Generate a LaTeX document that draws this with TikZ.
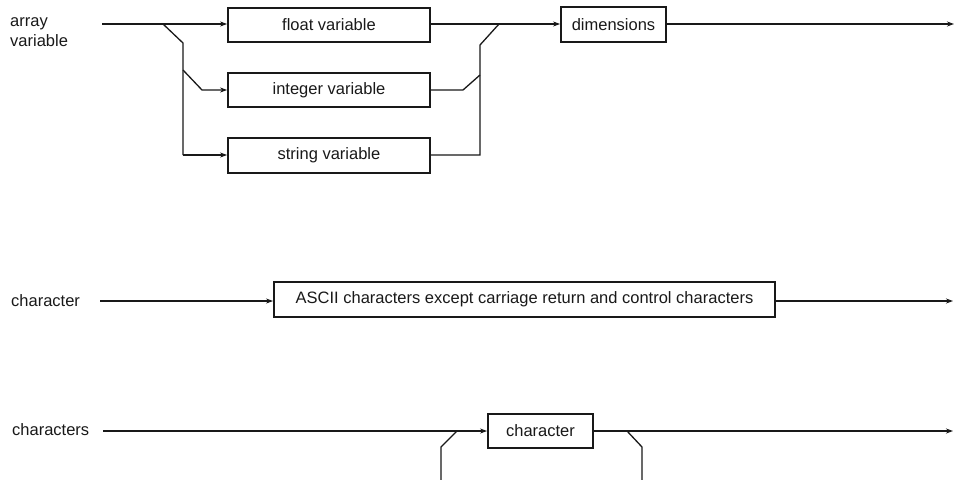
\documentclass[tikz,border=0pt]{standalone}
\usepackage{fontspec}
\setmainfont{Liberation Sans}
\usepackage{tikz}
\usetikzlibrary{arrows.meta, positioning, calc}
\definecolor{mydark}{RGB}{25,25,25}
\tikzset{
  synbox/.style={rectangle,draw=mydark,line width=1.8pt,minimum height=34pt,
    inner sep=0pt,font=\fontsize{16.5}{18}\selectfont,text=mydark},
  lbl/.style={anchor=west,align=left,inner sep=0pt,font=\fontsize{16.5}{20}\selectfont,text=mydark},
  arrow/.style={-{Stealth[length=7pt,width=5pt]},line width=1.3pt,color=mydark},
  line/.style={line width=1.3pt,color=mydark,line join=miter}
}
\begin{document}
\begin{tikzpicture}[x=1pt,y=-1pt]
  \clip (0,0) rectangle (957,479);
  % array variable
  \node[lbl] (arrlbl) at (10,32) {array\\variable};
  \node[synbox, minimum width=202pt] (flt) at (329,25) {float variable};
  \node[synbox, minimum width=202pt] (int) at (329,90) {integer variable};
  \node[synbox, minimum width=202pt, minimum height=35pt] (str) at (329,155.5) {string variable};
  \node[synbox, minimum width=105pt, minimum height=35pt] (dim) at (613.5,24.5) {dimensions};
  \coordinate (a0) at (102,24);
  \coordinate (a1) at (163,24);
  \coordinate (a2) at (183,43);
  \coordinate (a3) at (183,70);
  \coordinate (a4) at (202,90);
  \coordinate (a5) at (183,155);
  \coordinate (b1) at (463,90);
  \coordinate (b2) at (480,75);
  \coordinate (b3) at (480,45);
  \coordinate (b4) at (499,24);
  \coordinate (b5) at (480,155);
  \coordinate (aend) at (954,24);

  \draw[arrow] (a0) -- (flt.west |- a0);
  \draw[line] (a1) -- (a2) -- (a5);
  \draw[arrow] (a5) -- (str.west |- a5);
  \draw[arrow] (a3) -- (a4) -- (int.west |- a4);
  \draw[arrow] (flt.east |- a0) -- (dim.west |- a0);
  \draw[line] (int.east |- b1) -- (b1) -- (b2);
  \draw[line] (str.east |- b5) -- (b5) -- (b3) -- (b4);
  \draw[arrow] (dim.east |- a0) -- (aend);

  % character
  \node[lbl] (chlbl) at (11,301) {character};
  \node[synbox, minimum width=501pt, minimum height=35pt] (ascii) at (524.5,299.5)
    {ASCII characters except carriage return and control characters};
  \coordinate (c0) at (100,301);
  \coordinate (cend) at (953,301);
  \draw[arrow] (c0) -- (ascii.west |- c0);
  \draw[arrow] (ascii.east |- c0) -- (cend);

  % characters
  \node[lbl] (chslbl) at (12,430) {characters};
  \node[synbox, minimum width=105pt] (chr) at (540.5,431) {character};
  \coordinate (d0) at (103,431);
  \coordinate (d1) at (457,431);
  \coordinate (d2) at (441,447);
  \coordinate (d3) at (441,482);
  \coordinate (d4) at (642,482);
  \coordinate (d5) at (642,447);
  \coordinate (d6) at (627,431);
  \coordinate (dend) at (953,431);
  \draw[arrow] (d0) -- (chr.west |- d0);
  \draw[arrow] (chr.east |- d0) -- (dend);
  \draw[line] (d6) -- (d5) -- (d4) -- (d3) -- (d2) -- (d1);
\end{tikzpicture}
\end{document}
